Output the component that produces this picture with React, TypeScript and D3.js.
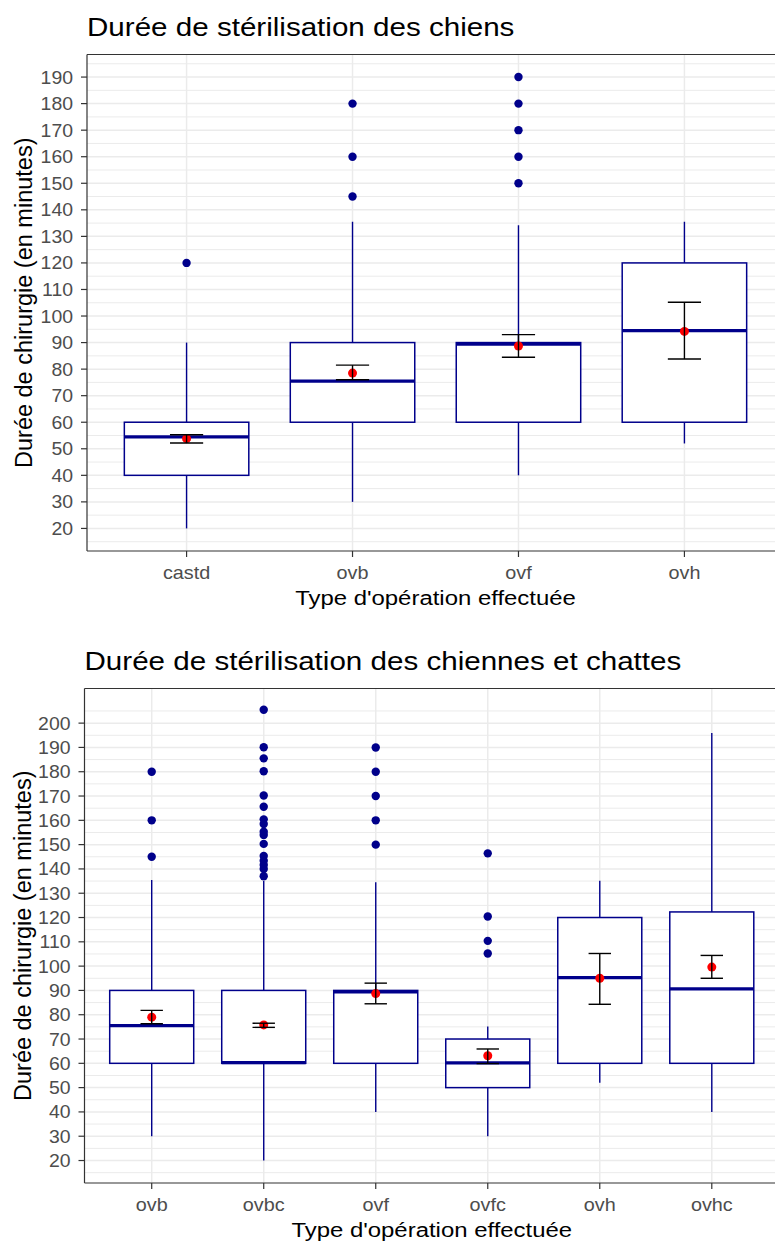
import React from "react";
import * as d3 from "d3";

// ---------- Data: top panel (chiens) ----------
const topCategories = ["castd", "ovb", "ovf", "ovh"];
const topLowerWhisker = [20, 30, 40, 52];
const topQ1 = [40, 60, 60, 60];
const topMedian = [54.5, 75.5, 89.4, 94.5];
const topQ3 = [60, 90, 90, 120];
const topUpperWhisker = [90, 135.5, 134.2, 135.5];
const topMean = [53.8, 78.5, 88.7, 94.2];
const topMeanLow = [52.2, 76, 84.5, 83.8];
const topMeanHigh = [55.3, 81.5, 93, 105.2];
const topOutliers = [[120], [145, 160, 180], [150, 160, 170, 180, 190], []];
const topTicks = [20, 30, 40, 50, 60, 70, 80, 90, 100, 110, 120, 130, 140, 150, 160, 170, 180, 190];

// ---------- Data: bottom panel (chiennes et chattes) ----------
const botCategories = ["ovb", "ovbc", "ovf", "ovfc", "ovh", "ovhc"];
const botLowerWhisker = [30, 20, 40, 30, 52, 40];
const botQ1 = [60, 60, 60, 50, 60, 60];
const botMedian = [75.5, 60.3, 89.4, 60.2, 95.3, 90.6];
const botQ3 = [90, 90, 90, 70, 120, 122.3];
const botUpperWhisker = [135.4, 135, 134.5, 75.2, 135.1, 195.9];
const botMean = [79, 75.8, 88.7, 63.1, 95, 99.6];
const botMeanLow = [76.3, 74.8, 84.5, 59.9, 84.3, 95];
const botMeanHigh = [81.8, 76.5, 93, 65.9, 105.2, 104.4];
const botOutliers = [
  [145, 160, 180],
  [137, 140, 141.6, 143.4, 145.3, 150.3, 154, 155.3, 158.5, 160.4, 165.6, 170.2, 180.2, 185.5, 190.1, 205.5],
  [150, 160, 170, 180, 190],
  [105.2, 110.4, 120.4, 146.4],
  [],
  [],
];
const botTicks = [20, 30, 40, 50, 60, 70, 80, 90, 100, 110, 120, 130, 140, 150, 160, 170, 180, 190, 200];

const titleTop = "Durée de stérilisation des chiens";
const titleBot = "Durée de stérilisation des chiennes et chattes";
const xTitle = "Type d'opération effectuée";
const yTitle = "Durée de chirurgie (en minutes)";

const FONT = "'Liberation Sans', Arial, sans-serif";
const BOX = "#00008B";

type PanelProps = {
  left: number; right: number; top: number; bottom: number;
  domain: [number, number];
  categories: string[];
  lw: number[]; q1: number[]; med: number[]; q3: number[]; uw: number[];
  mean: number[]; meanLo: number[]; meanHi: number[];
  outliers: number[][];
  ticks: number[];
  title: string;
  yTitleX: number;
};

function SText(props: { x: number; y: number; sx?: number; size: number; anchor?: string; fill?: string; children: React.ReactNode; rotate?: number }) {
  const { x, y, sx = 1, size, anchor = "start", fill = "#000", rotate = 0 } = props;
  return (
    <text
      transform={`translate(${x},${y}) rotate(${rotate}) scale(${sx},1)`}
      fontSize={size}
      fontFamily={FONT}
      textAnchor={anchor}
      fill={fill}
    >
      {props.children}
    </text>
  );
}

function Panel(p: PanelProps) {
  const y = d3.scaleLinear().domain(p.domain).range([p.bottom, p.top]);
  const x = d3.scalePoint<string>().domain(p.categories).range([p.left, p.right]).padding(0.6);
  const step = x.step();
  const boxW = step * 0.75;
  const capW = step * 0.2;
  const minor: number[] = [];
  for (let v = 15; v <= p.domain[1]; v += 10) if (v >= p.domain[0]) minor.push(v);
  const clipId = `clip-${Math.round(p.top)}`;
  const cx = (p.left + p.right) / 2;
  const cy = (p.top + p.bottom) / 2;
  return (
    <g>
      <defs>
        <clipPath id={clipId}>
          <rect x={p.left} y={p.top} width={p.right - p.left} height={p.bottom - p.top} />
        </clipPath>
      </defs>
      <g clipPath={`url(#${clipId})`}>
        {minor.map((v) => (
          <line key={"mi" + v} x1={p.left} x2={p.right} y1={y(v)} y2={y(v)} stroke="#ebebeb" strokeWidth={1} />
        ))}
        {p.ticks.map((v) => (
          <line key={"ma" + v} x1={p.left} x2={p.right} y1={y(v)} y2={y(v)} stroke="#ebebeb" strokeWidth={1.5} />
        ))}
        {p.categories.map((c) => (
          <line key={"vx" + c} x1={x(c)} x2={x(c)} y1={p.top} y2={p.bottom} stroke="#ebebeb" strokeWidth={1.5} />
        ))}
        {p.categories.map((c, i) => {
          const xc = x(c)!;
          return (
            <g key={"b" + c}>
              <line x1={xc} x2={xc} y1={y(p.q3[i])} y2={y(p.uw[i])} stroke={BOX} strokeWidth={1.4} />
              <line x1={xc} x2={xc} y1={y(p.q1[i])} y2={y(p.lw[i])} stroke={BOX} strokeWidth={1.4} />
              <rect x={xc - boxW / 2} y={y(p.q3[i])} width={boxW} height={y(p.q1[i]) - y(p.q3[i])} fill="#fff" stroke={BOX} strokeWidth={1.5} />
              <line x1={xc - boxW / 2} x2={xc + boxW / 2} y1={y(p.med[i])} y2={y(p.med[i])} stroke={BOX} strokeWidth={3.2} />
              {p.outliers[i].map((o, j) => (
                <circle key={j} cx={xc} cy={y(o)} r={4.2} fill={BOX} />
              ))}
              <circle cx={xc} cy={y(p.mean[i])} r={4.5} fill="#ff0000" />
              <line x1={xc} x2={xc} y1={y(p.meanLo[i])} y2={y(p.meanHi[i])} stroke="#000" strokeWidth={1.4} />
              <line x1={xc - capW / 2} x2={xc + capW / 2} y1={y(p.meanLo[i])} y2={y(p.meanLo[i])} stroke="#000" strokeWidth={1.4} />
              <line x1={xc - capW / 2} x2={xc + capW / 2} y1={y(p.meanHi[i])} y2={y(p.meanHi[i])} stroke="#000" strokeWidth={1.4} />
            </g>
          );
        })}
      </g>
      <line x1={p.left} x2={p.right} y1={p.top} y2={p.top} stroke="#333" strokeWidth={1.2} />
      <line x1={p.left} x2={p.right} y1={p.bottom} y2={p.bottom} stroke="#333" strokeWidth={1.2} />
      <line x1={p.left} x2={p.left} y1={p.top} y2={p.bottom} stroke="#333" strokeWidth={1.2} />
      {p.ticks.map((v) => (
        <g key={"yt" + v}>
          <line x1={p.left - 6} x2={p.left} y1={y(v)} y2={y(v)} stroke="#333" strokeWidth={1.2} />
          <SText x={p.left - 14} y={y(v) + 6.5} size={18} sx={1.08} anchor="end" fill="#4d4d4d">{v}</SText>
        </g>
      ))}
      {p.categories.map((c) => (
        <g key={"xt" + c}>
          <line x1={x(c)} x2={x(c)} y1={p.bottom} y2={p.bottom + 6} stroke="#333" strokeWidth={1.2} />
          <SText x={x(c)!} y={p.bottom + 28} size={18} sx={1.1} anchor="middle" fill="#4d4d4d">{c}</SText>
        </g>
      ))}
      <SText x={cx} y={p.bottom + 54} size={21} sx={1.14} anchor="middle">{xTitle}</SText>
      <SText x={p.yTitleX} y={cy} size={23.5} anchor="middle" rotate={-90}>{yTitle}</SText>
      <SText x={p.left} y={p.top - 18.5} size={25.5} sx={1.16}>{p.title}</SText>
    </g>
  );
}

export default function App() {
  return (
    <div style={{ position: "absolute", left: 0, top: 0, width: 775, height: 1243, overflow: "hidden" }}>
      <svg width={800} height={1243} style={{ display: "block" }}>
        <rect width={800} height={1243} fill="#fff" />
        <Panel
          left={87} right={784} top={54.5} bottom={551} domain={[11.5, 198.5]}
          categories={topCategories} lw={topLowerWhisker} q1={topQ1} med={topMedian} q3={topQ3} uw={topUpperWhisker}
          mean={topMean} meanLo={topMeanLow} meanHi={topMeanHigh} outliers={topOutliers} ticks={topTicks}
          title={titleTop} yTitleX={32}
        />
        <Panel
          left={84.5} right={779} top={688.5} bottom={1183} domain={[10.75, 214.25]}
          categories={botCategories} lw={botLowerWhisker} q1={botQ1} med={botMedian} q3={botQ3} uw={botUpperWhisker}
          mean={botMean} meanLo={botMeanLow} meanHi={botMeanHigh} outliers={botOutliers} ticks={botTicks}
          title={titleBot} yTitleX={31}
        />
      </svg>
    </div>
  );
}
